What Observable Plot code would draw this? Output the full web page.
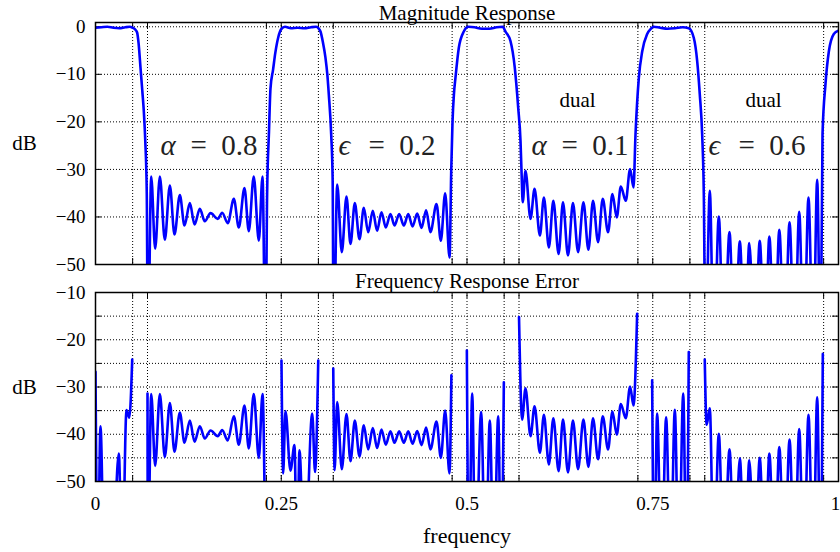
<!DOCTYPE html>
<html><head><meta charset="utf-8">
<script src="https://cdn.jsdelivr.net/npm/d3@7"></script>
<script src="https://cdn.jsdelivr.net/npm/@observablehq/plot@0.6"></script>
<style>
body{margin:0;background:#fff;}
#c{width:840px;height:552px;}
#c svg{display:block;overflow:visible;font-family:'Liberation Serif','Times New Roman',serif;}
#c svg text{font-family:'Liberation Serif','Times New Roman',serif;}
</style>
</head><body><div id="c"></div>
<script>
// ---------- axes / labels ----------
const xEdges = [0.05,0.07,0.23,0.25,0.3,0.32,0.48,0.5,0.55,0.57,0.73,0.75,0.8,0.82,0.98];
const xTickLabels = [0,0.25,0.5,0.75];
const xLastLabel = [1];
const magTicks = [0,-10,-20,-30,-40,-50];
const magGrid = [0,-10,-20,-30,-40];
const errTicks = [-10,-20,-30,-40,-50];
const errGrid = [-15,-20,-25,-30,-35,-40,-45];
const noteF = [0.0875,0.327,0.5868,0.825];
const noteSym = ["α","ϵ","α","ϵ"];
const noteVal = ["=\u20020.8","=\u20020.2","=\u20020.1","=\u20020.6"];
const noteDb = -25;
const dualF = [0.6487,0.899];
const dualDb = -15.5;

// ---------- stopbands (shared by both panels) ----------
const stopA08F = [0.075,0.0803,0.0866,0.0933,0.1001,0.1063,0.1135,0.1198,0.127,0.1333,0.1404,0.1471,0.1548,0.1646,0.1705,0.178,0.1862,0.1929,0.2005,0.2063,0.213,0.2198,0.2248];
const stopA08Db = [-31.5,-46.7,-31.5,-44.8,-33.4,-43.7,-35.4,-41.8,-37.1,-41.6,-38.3,-40.9,-39.2,-40.4,-39.1,-41.3,-36.2,-42.2,-33.9,-43,-31.5,-45,-31.5];
const stopE02F = [0.3253,0.3315,0.3378,0.3432,0.349,0.3553,0.3611,0.367,0.3732,0.379,0.3849,0.3907,0.397,0.4024,0.4087,0.415,0.4209,0.4267,0.433,0.4388,0.445,0.4508,0.459,0.4648,0.4706];
const stopE02Db = [-33.2,-47.4,-35.7,-45.7,-37.1,-44.7,-38.1,-43.2,-38.7,-42.9,-39,-42.2,-39.4,-41.8,-39.4,-41.8,-39.4,-42,-39.3,-42.3,-38.6,-43.2,-37.3,-45,-35];
const stopA01F = [0.5787,0.5855,0.5909,0.5981,0.6035,0.6102,0.6162,0.6233,0.6292,0.6359,0.6426,0.6495,0.6567,0.6634,0.6696,0.6764,0.6827,0.6899,0.6957,0.7016,0.707,0.7137,0.7195];
const stopA01Db = [-30.3,-40.4,-34.1,-43.9,-35.9,-46.4,-36.6,-47.8,-36.9,-48.1,-37.1,-47.4,-36.9,-46.9,-36.6,-45.3,-36.2,-43.2,-35.2,-40.1,-33.6,-36.6,-29.9];
const stopE06F = [0.8268,0.8322,0.8389,0.8456,0.8533,0.86,0.8672,0.8739,0.8799,0.8873,0.894,0.9008,0.9069,0.9139,0.9203,0.9273,0.9341,0.9408,0.9471,0.9533,0.9596,0.9659,0.9713];
const stopE06Db = [-34.5,-70,-39.9,-70,-43.2,-70,-45.1,-70,-45.5,-70,-45,-70,-44.1,-70,-42.7,-70,-41.1,-70,-38.9,-70,-35.9,-70,-32.2];

// ---------- magnitude: passbands + transitions ----------
const magP1F = [0,0.008,0.016,0.024,0.032,0.04,0.046,0.05,0.053,0.056,0.058,0.0606,0.063,0.065,0.067,0.069,0.0705];
const magP1Db = [-0.2,-0.1,0,-0.2,-0.3,-0.1,0,-0.2,-0.5,-1.2,-3.5,-8.7,-13.5,-17.7,-24,-35,-70];
const magP2F = [0.2288,0.231,0.2335,0.2355,0.239,0.242,0.246,0.25,0.255,0.263,0.272,0.281,0.29,0.297,0.3,0.3028,0.306,0.3095,0.312,0.314,0.3172,0.3192,0.3205];
const magP2Db = [-70,-35,-22,-13,-9,-5.5,-2.2,-0.5,0,-0.3,-0.2,-0.3,-0.1,0,-0.3,-1,-3.2,-6.5,-10,-14.2,-22.6,-32.4,-70];
const magP3F = [0.4765,0.4788,0.4805,0.4825,0.4845,0.489,0.4957,0.502,0.51,0.52,0.53,0.54,0.548,0.5518,0.5585,0.5643,0.5689,0.572,0.5735,0.575];
const magP3Db = [-48.5,-30,-20,-14,-10.7,-4.4,-1,0,-0.1,-0.4,-0.4,-0.1,0,-1,-3,-8.6,-17,-24,-31,-36.9];
const magP4F = [0.7241,0.7268,0.7313,0.7358,0.7425,0.7476,0.751,0.76,0.77,0.78,0.79,0.7985,0.8052,0.8098,0.8133,0.8165,0.8187,0.821];
const magP4Db = [-33.8,-22.6,-10.7,-5.2,-1.5,-0.4,0,-0.2,-0.4,-0.3,-0.1,-0.3,-2.3,-7.2,-14.2,-22.6,-35,-70];
const magP5F = [0.9758,0.9785,0.9825,0.987,0.9937,1];
const magP5Db = [-70,-22.6,-12,-5.2,-1.5,-0.8];

// ---------- error: passbands and stopband edges ----------
const errP1F = [0,0.003,0.0067,0.012,0.022,0.0314,0.0359,0.0417,0.0455,0.0494];
const errP1Db = [-26.8,-70,-38.3,-70,-70,-44.1,-70,-34.9,-36.5,-24.2];
const errP2F = [0.2503,0.2525,0.2557,0.2624,0.2678,0.2713,0.2745,0.2813,0.2917,0.2955,0.2998];
const errP2Db = [-24.4,-48.3,-35.1,-47.7,-42.3,-70,-43.4,-70,-35.6,-48,-24.4];
const errP3F = [0.4998,0.5025,0.507,0.5114,0.519,0.5249,0.5307,0.536,0.542,0.546,0.5496];
const errP3Db = [-22.3,-70,-31.4,-70,-35.3,-70,-37.1,-70,-36.2,-70,-29];
const errP4F = [0.7492,0.752,0.7559,0.7618,0.768,0.7739,0.7797,0.785,0.791,0.7954,0.7985];
const errP4Db = [-28.6,-70,-35.6,-70,-36.4,-70,-34.8,-70,-31.4,-70,-22.6];
const errS1HeadF = [0.07,0.0705], errS1HeadDb = [-31.4,-70];
const errS1TailF = [0.2288], errS1TailDb = [-70];
const errS2HeadF = [0.32,0.3218], errS2HeadDb = [-26.1,-47.6];
const errS2TailF = [0.4764,0.479], errS2TailDb = [-48.3,-27.5];
const errS3HeadF = [0.57,0.5742], errS3HeadDb = [-15.2,-36.9];
const errS3TailF = [0.7241,0.729], errS3TailDb = [-33.9,-14.5];
const errS4HeadF = [0.82,0.8225], errS4HeadDb = [-24.2,-38];
const errS4TailF = [0.9758,0.9789], errS4TailDb = [-70,-23];

// ---------- build rows ----------
function rows(pairs, seg) {
  const out = [];
  for (const [F, D] of pairs) F.forEach((f, i) => out.push({f, db: D[i], seg}));
  return out;
}
const magRows = rows([
  [magP1F, magP1Db], [stopA08F, stopA08Db], [magP2F, magP2Db], [stopE02F, stopE02Db],
  [magP3F, magP3Db], [stopA01F, stopA01Db], [magP4F, magP4Db], [stopE06F, stopE06Db], [magP5F, magP5Db]
], 0);
const errRows = [
  ...rows([[errP1F, errP1Db]], 1),
  ...rows([[errS1HeadF, errS1HeadDb], [stopA08F, stopA08Db], [errS1TailF, errS1TailDb]], 2),
  ...rows([[errP2F, errP2Db]], 3),
  ...rows([[errS2HeadF, errS2HeadDb], [stopE02F, stopE02Db], [errS2TailF, errS2TailDb]], 4),
  ...rows([[errP3F, errP3Db]], 5),
  ...rows([[errS3HeadF, errS3HeadDb], [stopA01F, stopA01Db], [errS3TailF, errS3TailDb]], 6),
  ...rows([[errP4F, errP4Db]], 7),
  ...rows([[errS4HeadF, errS4HeadDb], [stopE06F, stopE06Db], [errS4TailF, errS4TailDb]], 8)
];

const FONT = "'Liberation Serif','Times New Roman',serif";
const ML = 95, MR = 2, PW = 840 - ML - MR, TICK = 6;
const fmt = d => d < 0 ? "\u2212" + Math.abs(d) : String(d);

function panel({height, mt, mb, yDomain, yTicks, yGrid, title, titleDy, data, bottom, notes}) {
  const PH = height - mt - mb;
  const marks = [
    Plot.ruleX(xEdges, {stroke: "#000", strokeWidth: 1, strokeDasharray: "1,2"}),
    Plot.ruleY(yGrid, {stroke: "#000", strokeWidth: 1, strokeDasharray: "1,2"}),
    Plot.tickX(xEdges, {x: d => d, stroke: "#000", strokeWidth: 1, insetTop: PH - TICK}),
    Plot.tickX(xEdges, {x: d => d, stroke: "#000", strokeWidth: 1, insetBottom: PH - TICK}),
    Plot.tickY(yGrid, {y: d => d, stroke: "#000", strokeWidth: 1, insetRight: PW - TICK}),
    Plot.tickY(yGrid, {y: d => d, stroke: "#000", strokeWidth: 1, insetLeft: PW - TICK}),
    Plot.line(data, {x: "f", y: "db", z: "seg", stroke: "#0000ff", strokeWidth: 2.6, curve: "monotone-x", clip: true}),
    Plot.axisY({ticks: yTicks, tickSize: 0, tickPadding: 10, tickFormat: fmt, label: null, fontSize: 19, fontFamily: FONT}),
    Plot.text([title], {frameAnchor: "top", lineAnchor: "bottom", dy: titleDy, fontSize: 21, fontFamily: FONT, fill: "#000"}),
    Plot.text(["dB"], {frameAnchor: "left", textAnchor: "middle", dx: -71, fontSize: 21, fontFamily: FONT, fill: "#000"}),
    Plot.frame({stroke: "#000", strokeWidth: 1.5})
  ];
  if (bottom) {
    marks.push(Plot.axisX({ticks: xTickLabels, tickSize: 0, tickPadding: 15, tickFormat: d => String(d), label: null, fontSize: 19, fontFamily: FONT}));
    marks.push(Plot.text(xLastLabel, {x: d => d, frameAnchor: "bottom", lineAnchor: "top", dy: 15, dx: -3, text: d => String(d), fontSize: 19, fontFamily: FONT, fill: "#000"}));
    marks.push(Plot.text(["frequency"], {frameAnchor: "bottom", lineAnchor: "middle", dy: 54, fontSize: 22, fontFamily: FONT, fill: "#000"}));
  }
  if (notes) {
    marks.push(Plot.text(noteF, {x: d => d, y: () => noteDb, text: (d, i) => noteSym[i], textAnchor: "start", fontSize: 29, fontStyle: "italic", fontFamily: FONT, fill: "#222"}));
    marks.push(Plot.text(noteF, {x: d => d, y: () => noteDb, text: (d, i) => noteVal[i], textAnchor: "start", dx: 30, fontSize: 29, fontFamily: FONT, fill: "#222"}));
    marks.push(Plot.text(dualF, {x: d => d, y: () => dualDb, text: () => "dual", fontSize: 21, fontFamily: FONT, fill: "#000"}));
  }
  return Plot.plot({
    width: 840, height,
    marginLeft: ML, marginRight: MR, marginTop: mt, marginBottom: mb,
    style: {fontFamily: FONT, fontSize: "19px", color: "#000", background: "#fff", overflow: "visible"},
    x: {domain: [0, 1], axis: null},
    y: {domain: yDomain, axis: null},
    marks
  });
}

const c = document.getElementById("c");
c.append(panel({height: 270, mt: 22, mb: 6, yDomain: [-50, 0.9], yTicks: magTicks, yGrid: magGrid,
  title: "Magnitude Response", titleDy: -3, data: magRows, bottom: false, notes: true}));
c.append(panel({height: 282, mt: 22, mb: 71, yDomain: [-50, -10], yTicks: errTicks, yGrid: errGrid,
  title: "Frequency Response Error", titleDy: -5, data: errRows, bottom: true, notes: false}));
</script></body></html>
